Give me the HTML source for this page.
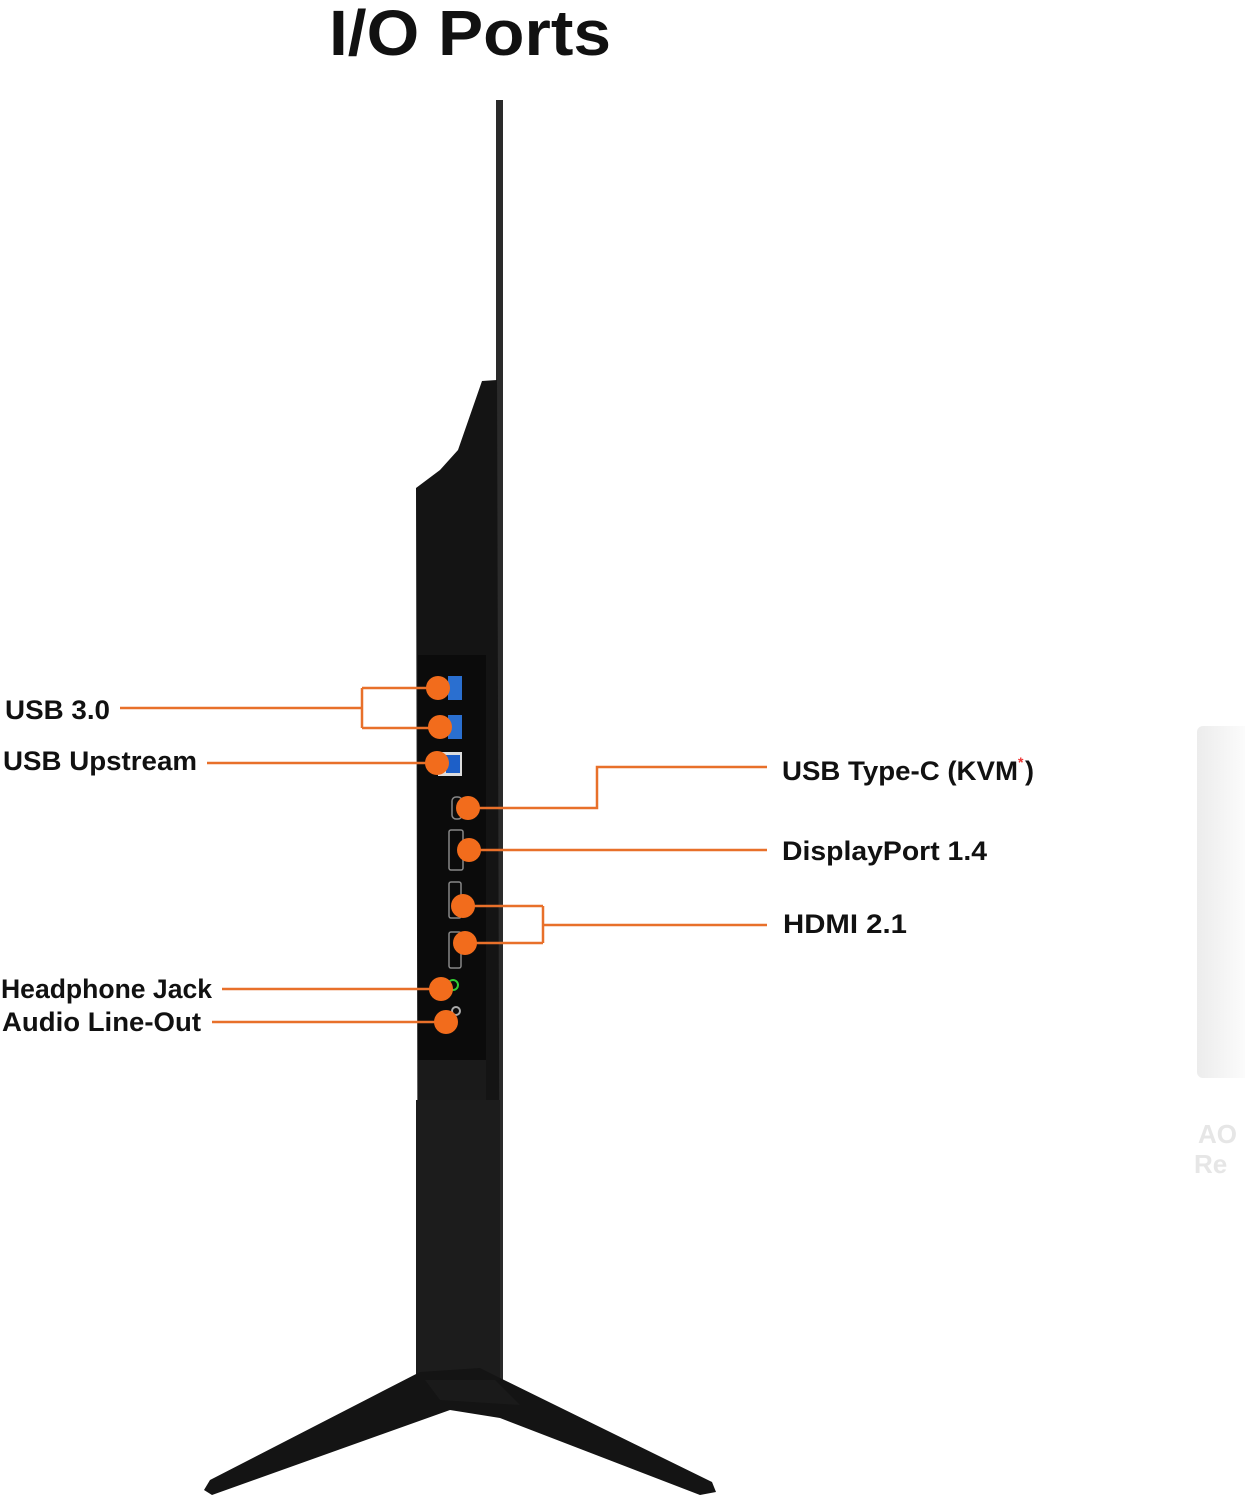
<!DOCTYPE html>
<html><head><meta charset="utf-8"><style>
html,body{margin:0;padding:0;background:#fff;}
svg{display:block;}
text{font-family:"Liberation Sans",sans-serif;font-weight:bold;fill:#111;}
</style></head><body>
<svg width="1245" height="1500" viewBox="0 0 1245 1500" xmlns="http://www.w3.org/2000/svg">
<defs>
<linearGradient id="fg" x1="0" x2="1"><stop offset="0" stop-color="#ececec"/><stop offset="1" stop-color="#fff"/></linearGradient>
</defs>
<text x="470" y="55" font-size="64" text-anchor="middle" textLength="282" lengthAdjust="spacingAndGlyphs">I/O Ports</text>
<rect x="1197" y="726" width="60" height="352" rx="6" fill="url(#fg)"/>
<text x="1198" y="1143" font-size="26" style="fill:#e6e6e6">AO</text>
<text x="1194" y="1173" font-size="26" style="fill:#e6e6e6">Re</text>
<rect x="496" y="100" width="7" height="1280" fill="#2a2a2a"/>
<path d="M482,381 L497,380 L500,1380 L418,1380 L416,488 L440,470 L458,450 Z" fill="#141414"/>
<rect x="418" y="655" width="68" height="445" fill="#0b0b0b"/>
<path d="M418,1060 L486,1060 L486,1100 L418,1100 Z" fill="#1a1a1a"/>
<rect x="416" y="1100" width="84" height="280" fill="#1c1c1c"/>
<path d="M420,1372 L480,1368 L500,1378 L712,1482 L716,1492 L700,1495 L500,1418 L450,1410 L212,1495 L204,1490 L210,1480 Z" fill="#141414"/>
<path d="M425,1380 L495,1380 L520,1405 L440,1400 Z" fill="#1a1a1a"/>
<rect x="448" y="676" width="14" height="24" fill="#2a6fd0"/>
<rect x="448" y="715" width="14" height="24" fill="#2a6fd0"/>
<rect x="438" y="752" width="24" height="24" fill="#ddd"/><rect x="446" y="755" width="14" height="18" fill="#1d5fc8"/>
<g fill="none" stroke="#888" stroke-width="1.5">
<rect x="452" y="797" width="10" height="22" rx="4"/>
<rect x="449" y="830" width="14" height="40" rx="2"/>
<rect x="449" y="882" width="12" height="36" rx="2"/>
<rect x="449" y="932" width="12" height="36" rx="2"/>
</g>
<circle cx="453" cy="985" r="5" fill="none" stroke="#3c3" stroke-width="2"/>
<circle cx="456" cy="1011" r="4" fill="none" stroke="#aaa" stroke-width="2"/>
<g stroke="#e8702a" stroke-width="2.5" fill="none">
<path d="M120,708 H362 M362,688 V728 M362,688 H438 M362,728 H440"/>
<path d="M207,763 H437"/>
<path d="M767,767 H597 V808 H468"/>
<path d="M767,850 H469"/>
<path d="M767,925 H543 M543,906 V943 M463,906 H543 M465,943 H543"/>
<path d="M222,989 H441"/>
<path d="M212,1022 H446"/>
</g>
<g fill="#f26c1c">
<circle cx="438" cy="688" r="12"/><circle cx="440" cy="727" r="12"/><circle cx="437" cy="763" r="12"/>
<circle cx="468" cy="808" r="12"/><circle cx="469" cy="850" r="12"/>
<circle cx="463" cy="906" r="12"/><circle cx="465" cy="943" r="12"/>
<circle cx="441" cy="989" r="12"/><circle cx="446" cy="1022" r="12"/>
</g>
<text x="5" y="719" font-size="27" textLength="105" lengthAdjust="spacingAndGlyphs">USB 3.0</text>
<text x="3" y="770" font-size="27" textLength="194" lengthAdjust="spacingAndGlyphs">USB Upstream</text>
<text x="782" y="780" font-size="27" textLength="236" lengthAdjust="spacingAndGlyphs">USB Type-C (KVM</text>
<text x="1018" y="767" font-size="14" style="fill:#e33">*</text>
<text x="1025" y="780" font-size="27">)</text>
<text x="782" y="860" font-size="27" textLength="205" lengthAdjust="spacingAndGlyphs">DisplayPort 1.4</text>
<text x="783" y="933" font-size="27" textLength="124" lengthAdjust="spacingAndGlyphs">HDMI 2.1</text>
<text x="1" y="998" font-size="27" textLength="211" lengthAdjust="spacingAndGlyphs">Headphone Jack</text>
<text x="2" y="1031" font-size="27" textLength="199" lengthAdjust="spacingAndGlyphs">Audio Line-Out</text>
</svg>
</body></html>
